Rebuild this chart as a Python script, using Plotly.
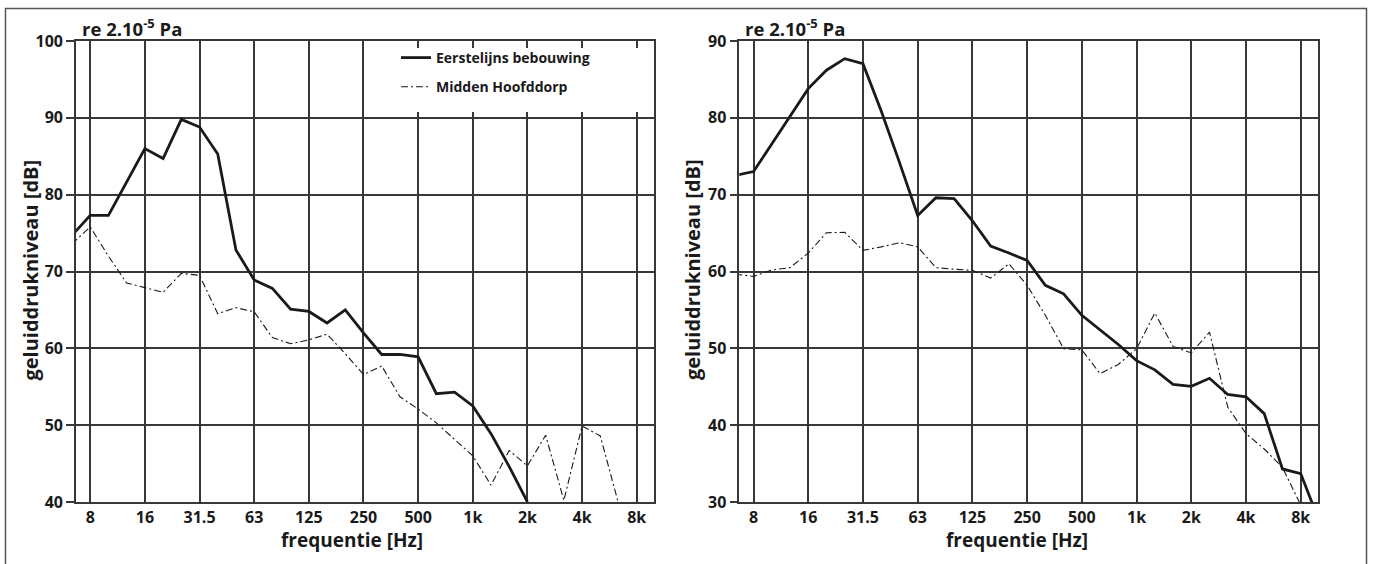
import plotly.graph_objects as go

# third-octave bands (index -1 = 6.3 Hz ... 31 = 10 kHz)
bands = ["6.3", "8", "10", "12.5", "16", "20", "25", "31.5", "40", "50", "63", "80",
         "100", "125", "160", "200", "250", "315", "400", "500", "630", "800",
         "1k", "1.25k", "1.6k", "2k", "2.5k", "3.15k", "4k", "5k", "6.3k", "8k", "10k"]
band_index = list(range(-1, 32))

tick_labels = ["8", "16", "31.5", "63", "125", "250", "500", "1k", "2k", "4k", "8k"]
tick_octaves = list(range(0, 11))

# left panel
left_eerstelijns = [74.7, 77.3, 77.3, 81.6, 86.0, 84.7, 89.8, 88.8, 85.3, 72.8, 68.9, 67.8,
                    65.1, 64.8, 63.3, 65.0, 62.0, 59.2, 59.2, 58.9, 54.1, 54.3,
                    52.5, 48.9, 44.6, 40.0, None, None, None, None, None, None, None]
left_midden = [73.6, 75.8, 72.0, 68.5, 67.9, 67.3, 69.75, 69.5, 64.5, 65.3, 64.75, 61.4,
               60.6, 61.1, 61.85, 59.3, 56.6, 57.7, 53.7, 52.1, 50.3, 48.2,
               46.0, 42.2, 46.7, 44.7, 48.7, 40.2, 49.9, 48.6, 39.8, None, None]

# right panel
right_eerstelijns = [72.5, 73.0, 76.6, 80.2, 83.8, 86.2, 87.7, 87.05, 80.9, 74.2, 67.3, 69.6,
                     69.5, 66.6, 63.3, 62.4, 61.45, 58.2, 57.1, 54.3, 52.4, 50.5,
                     48.4, 47.2, 45.3, 45.05, 46.1, 44.0, 43.7, 41.5, 34.3, 33.7, 27.6]
right_midden = [59.66, 59.35, 60.2, 60.5, 62.4, 65.05, 65.1, 62.75, 63.2, 63.75, 63.2, 60.5,
                60.3, 60.15, 59.15, 61.0, 58.2, 54.3, 49.95, 49.8, 46.7, 47.9,
                49.95, 54.6, 50.25, 49.4, 52.1, 42.35, 38.9, 36.9, 34.5, 29.6, None]

series_names = ["Eerstelijns bebouwing", "Midden Hoofddorp"]

W, H = 1373, 564
FONT = "Open Sans"
INK = "#1a1a1a"
GRID = "#383838"

freqs = [8 * 2 ** (k / 3) for k in band_index]
tickvals = [8 * 2 ** o for o in tick_octaves]


def px(x):
    return x / W


def py(y):
    return 1 - y / H


fig = go.Figure()

solid = dict(color=INK, width=2.8)
dashdot = dict(color=INK, width=1.1, dash="7px,3px,2px,3px")

fig.add_trace(go.Scatter(x=freqs, y=left_eerstelijns, mode="lines", line=solid,
                         name=series_names[0], legendgroup="a", showlegend=True,
                         text=bands, xaxis="x", yaxis="y"))
fig.add_trace(go.Scatter(x=freqs, y=left_midden, mode="lines", line=dashdot,
                         name=series_names[1], legendgroup="b", showlegend=True,
                         text=bands, xaxis="x", yaxis="y"))
fig.add_trace(go.Scatter(x=freqs, y=right_eerstelijns, mode="lines", line=solid,
                         name=series_names[0], legendgroup="a", showlegend=False,
                         text=bands, xaxis="x2", yaxis="y2"))
fig.add_trace(go.Scatter(x=freqs, y=right_midden, mode="lines", line=dashdot,
                         name=series_names[1], legendgroup="b", showlegend=False,
                         text=bands, xaxis="x2", yaxis="y2"))

xrange_log = [0.8248, 4.0085]
ydom = [py(502), py(41)]

common_x = dict(type="log", range=xrange_log, tickmode="array", tickvals=tickvals,
                ticktext=tick_labels, showgrid=True, gridcolor=GRID, gridwidth=1.6,
                showline=True, linecolor=GRID, linewidth=1.6, mirror=True, ticks="",
                tickfont=dict(family=FONT, size=16, color=INK, weight="bold"),
                zeroline=False, fixedrange=True, automargin=False)
common_y = dict(dtick=10, showgrid=True, gridcolor=GRID, gridwidth=1.6,
                showline=True, linecolor=GRID, linewidth=1.6, mirror=True,
                ticks="outside", ticklen=8, tickwidth=1.6, tickcolor=GRID,
                tickfont=dict(family=FONT, size=16, color=INK, weight="bold"),
                zeroline=False, fixedrange=True, automargin=False)

fig.update_layout(
    width=W, height=H, autosize=False,
    margin=dict(l=0, r=0, t=0, b=0, pad=0, autoexpand=False),
    paper_bgcolor="white", plot_bgcolor="white",
    xaxis=dict(domain=[px(76), px(654)], anchor="y", **common_x),
    yaxis=dict(domain=ydom, anchor="x", range=[40, 100], **common_y),
    xaxis2=dict(domain=[px(739.3), px(1318)], anchor="y2", **common_x),
    yaxis2=dict(domain=ydom, anchor="x2", range=[30, 90], **common_y),
    legend=dict(x=px(396), y=py(42), xanchor="left", yanchor="top",
                bgcolor="rgba(0,0,0,0)", borderwidth=0, tracegroupgap=8,
                font=dict(family=FONT, size=14, color=INK, weight="bold")),
    showlegend=True,
)

shapes = [
    dict(type="rect", xref="paper", yref="paper", x0=px(5.5), x1=px(1366.5),
         y0=-0.05, y1=py(8.5), line=dict(color="#555555", width=1.5),
         fillcolor="rgba(0,0,0,0)", layer="below"),
    dict(type="rect", xref="paper", yref="paper", x0=px(380), x1=px(652.5),
         y0=py(112), y1=py(48), line=dict(width=0), fillcolor="white", layer="above"),
]
fig.update_layout(shapes=shapes)

title_font = dict(family=FONT, size=19, color=INK, weight="bold")
ann = []
for xl in (80, 743):
    ann.append(dict(text="re 2.10<sup>-5</sup> Pa", x=px(xl), y=py(28), xref="paper",
                    yref="paper", xanchor="left", yanchor="middle", showarrow=False,
                    font=dict(family=FONT, size=18.5, color=INK, weight="bold")))
for xc in (352, 1017):
    ann.append(dict(text="frequentie [Hz]", x=px(xc), y=py(540), xref="paper",
                    yref="paper", xanchor="center", yanchor="middle", showarrow=False,
                    font=title_font))
for xc in (29.5, 692):
    ann.append(dict(text="geluiddrukniveau [dB]", x=px(xc), y=py(270), xref="paper",
                    yref="paper", xanchor="center", yanchor="middle", showarrow=False,
                    textangle=-90, font=dict(family=FONT, size=20, color=INK, weight="bold")))
fig.update_layout(annotations=ann)

pin = ("document.body.style.margin='0';"
       "var d=document.getElementById('{plot_id}');"
       "d.style.position='fixed';d.style.left='0px';d.style.top='0px';")
fig.write_html("out.html", post_script=pin,
               config={"displayModeBar": False, "responsive": False})
